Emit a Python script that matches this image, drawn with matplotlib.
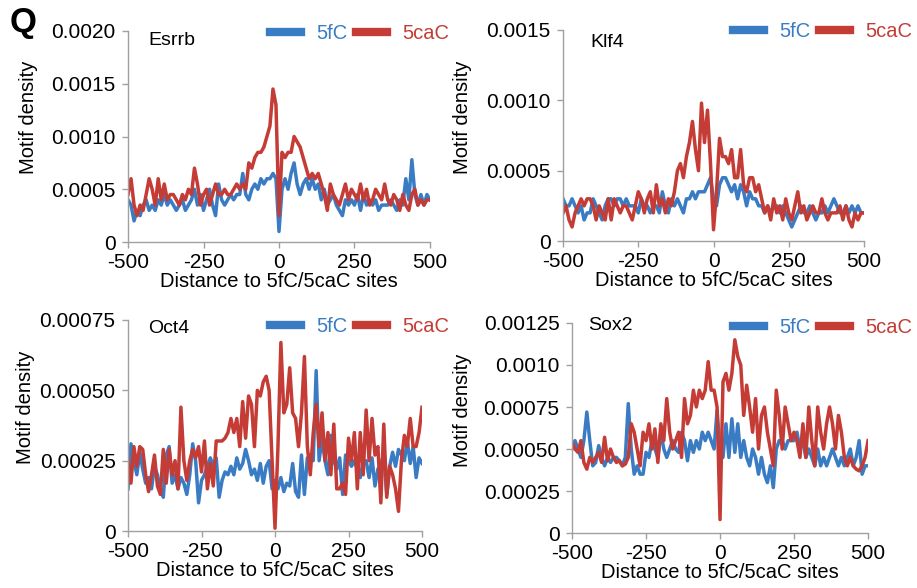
import numpy as np
import matplotlib
matplotlib.use("Agg")
import matplotlib.pyplot as plt

plt.rcParams['font.family'] = ['Liberation Sans', 'DejaVu Sans']

# distance bins (bp)
distance = list(range(-500, 501, 10))
UNIT = 1e-4  # values below are in units of 1e-4 motifs

esrrb_5fC = [4.0, 3.5, 2.0, 3.0, 2.5, 3.5, 4.0, 3.0, 3.5, 3.0, 4.0, 3.5, 4.5, 3.5, 4.0, 3.5, 3.0, 3.5, 4.0, 3.0,
             3.5, 4.0, 5.0, 3.5, 4.5, 3.0, 4.0, 5.0, 3.5, 2.5, 5.5, 4.0, 3.5, 4.0, 4.5, 4.0, 4.5, 4.5, 6.5, 4.5,
             4.0, 5.0, 5.5, 5.0, 6.0, 5.5, 6.0, 6.0, 6.5, 6.0, 1.0, 5.0, 6.0, 5.0, 6.5, 7.5, 5.5, 4.5, 5.5, 6.0,
             5.0, 6.0, 5.0, 5.5, 4.0, 5.0, 3.5, 4.0, 4.5, 3.5, 3.0, 2.5, 4.0, 3.5, 4.0, 3.5, 4.5, 3.0, 4.5, 3.5,
             4.0, 3.5, 4.0, 3.0, 3.5, 3.5, 3.5, 4.0, 3.5, 3.0, 4.0, 3.5, 6.0, 4.0, 7.8, 4.5, 3.5, 4.5, 3.5, 4.5, 4.0]
esrrb_5caC = [4.5, 6.0, 3.5, 2.5, 3.5, 3.0, 4.5, 6.0, 5.0, 3.5, 6.0, 4.0, 5.5, 4.0, 4.5, 4.5, 4.0, 3.5, 4.5, 4.0,
              5.0, 4.5, 7.0, 5.5, 3.5, 4.5, 5.0, 3.5, 4.5, 5.5, 4.5, 4.5, 5.0, 4.5, 4.5, 5.0, 5.5, 5.0, 5.5, 5.0,
              7.5, 7.0, 8.0, 8.5, 8.5, 9.0, 10.0, 11.0, 14.5, 13.0, 2.5, 8.5, 8.0, 8.5, 8.5, 10.0, 9.5, 9.0, 8.0, 7.0,
              6.0, 6.5, 6.0, 6.5, 5.5, 4.5, 3.0, 5.5, 4.5, 4.0, 3.5, 4.5, 5.5, 4.0, 5.0, 4.5, 4.0, 5.5, 4.0, 5.0,
              3.5, 4.0, 5.0, 4.5, 4.0, 5.5, 4.0, 3.5, 4.5, 4.0, 3.0, 4.5, 3.5, 3.0, 4.5, 5.0, 3.5, 4.0, 3.5, 4.0, 4.0]

klf4_5fC = [3.0, 2.5, 2.5, 3.0, 2.5, 2.0, 2.5, 1.5, 2.0, 2.0, 3.0, 2.5, 2.0, 1.5, 2.5, 3.0, 3.0, 2.5, 3.0, 3.0,
            2.5, 3.0, 2.5, 2.5, 2.5, 2.0, 3.0, 2.5, 2.5, 2.0, 2.5, 2.5, 2.0, 3.5, 2.5, 2.0, 3.0, 2.5, 3.0, 2.5,
            2.0, 3.0, 3.0, 3.5, 3.0, 3.5, 3.5, 3.5, 4.0, 4.5, 3.0, 2.5, 4.0, 4.5, 4.5, 4.0, 3.5, 4.0, 3.0, 4.0,
            3.5, 2.5, 3.5, 3.0, 3.0, 2.5, 2.5, 2.0, 2.5, 2.0, 2.5, 2.5, 2.0, 2.5, 2.0, 1.5, 1.0, 1.5, 2.0, 2.5,
            2.0, 2.0, 2.5, 2.0, 1.5, 2.0, 2.0, 2.5, 2.0, 2.5, 3.0, 2.5, 2.0, 2.0, 2.5, 2.0, 2.5, 2.0, 2.5, 2.0, 2.0]
klf4_5caC = [2.0, 2.5, 1.5, 1.0, 2.0, 2.5, 3.0, 2.5, 3.0, 3.0, 2.5, 1.5, 2.5, 2.0, 1.5, 3.0, 1.5, 3.0, 2.5, 2.0,
             2.5, 2.5, 2.0, 1.5, 2.5, 3.5, 3.0, 2.0, 3.0, 3.5, 2.0, 4.0, 2.5, 3.0, 2.0, 3.0, 2.5, 3.5, 5.0, 5.5,
             4.5, 6.0, 7.0, 8.5, 6.5, 5.0, 9.8, 7.0, 9.3, 5.5, 0.8, 3.5, 7.3, 6.0, 6.0, 5.5, 6.5, 4.5, 4.5, 6.5,
             4.0, 3.5, 4.5, 4.5, 3.5, 4.0, 3.0, 2.0, 2.5, 1.5, 3.0, 2.0, 2.5, 1.5, 3.0, 2.0, 1.5, 2.5, 3.5, 2.0,
             2.5, 1.5, 2.0, 2.5, 2.0, 2.0, 3.0, 2.0, 1.5, 2.0, 2.0, 2.0, 2.5, 1.5, 2.5, 1.5, 1.0, 2.0, 1.5, 2.0, 2.0]

oct4_5fC = [1.5, 3.1, 2.5, 2.0, 2.8, 2.2, 1.7, 1.9, 1.5, 2.3, 2.0, 1.5, 1.2, 2.7, 3.0, 1.7, 2.0, 1.5, 1.9, 1.7,
            1.3, 2.0, 3.1, 2.5, 1.0, 1.8, 2.0, 2.3, 2.6, 2.3, 2.6, 1.2, 1.8, 2.1, 2.0, 2.3, 2.0, 2.6, 2.2, 2.4,
            2.9, 2.5, 2.0, 2.2, 1.8, 2.4, 1.7, 2.3, 2.5, 1.5, 1.8, 1.5, 1.9, 1.4, 1.7, 1.6, 2.4, 1.4, 1.2, 2.7,
            1.3, 2.6, 2.7, 2.5, 5.7, 2.5, 3.3, 2.5, 2.0, 3.4, 2.5, 2.2, 2.6, 1.3, 2.7, 2.5, 2.3, 2.5, 2.2, 1.9,
            2.5, 2.5, 1.9, 2.6, 1.6, 2.2, 2.4, 2.7, 1.3, 2.3, 2.8, 2.3, 2.9, 2.7, 2.5, 3.2, 2.4, 3.0, 1.9, 2.6, 2.4]
oct4_5caC = [2.5, 1.7, 3.0, 2.3, 3.0, 2.9, 2.0, 1.4, 2.0, 2.7, 1.6, 1.3, 2.9, 1.7, 2.9, 2.0, 2.5, 1.5, 4.4, 2.5,
             1.8, 2.5, 2.9, 2.6, 3.0, 2.1, 3.2, 1.5, 2.4, 1.6, 3.2, 3.2, 3.2, 3.3, 3.5, 4.0, 3.5, 4.0, 3.0, 4.6,
             3.3, 4.8, 4.5, 3.0, 5.0, 4.8, 5.3, 5.5, 5.0, 2.5, 0.1, 3.0, 6.7, 4.2, 4.5, 5.8, 4.2, 4.0, 3.0, 4.2,
             6.2, 3.0, 2.0, 3.5, 4.5, 3.0, 4.2, 2.5, 3.5, 2.0, 3.8, 1.5, 1.5, 1.7, 1.3, 3.3, 2.5, 3.5, 1.5, 3.5,
             2.0, 4.3, 2.5, 4.0, 2.7, 3.0, 1.0, 3.8, 1.2, 2.3, 2.0, 1.5, 0.7, 2.5, 3.4, 3.0, 4.0, 3.0, 3.0, 3.5, 4.4]

sox2_5fC = [5.0, 5.5, 5.0, 4.5, 5.5, 7.2, 5.5, 4.0, 4.2, 5.2, 4.5, 4.0, 4.5, 4.2, 4.5, 4.5, 4.3, 4.0, 4.5, 7.7,
            5.0, 3.5, 4.0, 3.5, 3.5, 4.8, 4.5, 5.5, 5.0, 4.5, 6.0, 5.0, 4.5, 5.0, 5.5, 5.0, 4.8, 6.0, 5.5, 4.3,
            5.5, 4.8, 5.5, 5.0, 6.0, 5.5, 6.0, 5.5, 5.0, 7.3, 5.0, 4.5, 6.5, 4.5, 6.8, 4.8, 6.5, 4.5, 5.5, 4.5,
            4.0, 5.0, 4.5, 3.5, 4.5, 3.5, 3.0, 4.0, 2.7, 5.0, 5.5, 5.5, 5.0, 5.5, 5.5, 5.5, 6.0, 5.0, 5.5, 4.5,
            5.0, 4.5, 4.0, 5.0, 4.0, 4.5, 4.0, 4.5, 5.0, 4.5, 4.0, 4.5, 4.0, 4.5, 5.0, 4.0, 4.5, 5.5, 3.5, 4.0, 4.0]
sox2_5caC = [5.4, 5.0, 4.8, 5.5, 4.2, 3.8, 4.5, 4.2, 4.5, 4.8, 4.2, 5.7, 4.3, 5.0, 4.5, 4.2, 4.3, 4.0, 4.1, 4.5,
             6.5, 6.0, 5.0, 4.0, 6.0, 5.5, 6.5, 5.0, 6.2, 4.2, 6.5, 5.5, 8.0, 6.0, 5.0, 5.5, 6.0, 4.5, 8.0, 6.5,
             7.0, 8.5, 7.5, 8.5, 8.0, 8.5, 10.2, 8.5, 8.5, 7.5, 0.8, 9.0, 9.5, 8.5, 9.5, 11.5, 10.5, 10.0, 7.0, 8.8,
             7.5, 6.0, 8.0, 5.0, 7.0, 7.5, 6.0, 5.0, 4.0, 8.5, 7.0, 5.0, 7.5, 6.5, 5.5, 6.0, 5.5, 4.5, 6.5, 4.5,
             7.5, 5.5, 4.0, 7.5, 6.0, 5.0, 6.5, 7.5, 6.5, 5.0, 7.0, 6.0, 4.5, 4.0, 4.5, 4.0, 3.8, 3.7, 4.0, 4.5, 5.5]

panels = [
    dict(name="Esrrb", fc=esrrb_5fC, cac=esrrb_5caC, ymax=0.0020,
         yticks=[0, 0.0005, 0.0010, 0.0015, 0.0020],
         ylabels=["0", "0.0005", "0.0010", "0.0015", "0.0020"],
         pos=[0.1396, 0.5884, 0.3293, 0.3589],
         ylab=(-0.298, 0.59), title=(0.066, 0.957), leg=(0.4896, 0.9422)),
    dict(name="Klf4", fc=klf4_5fC, cac=klf4_5caC, ymax=0.0015,
         yticks=[0, 0.0005, 0.0010, 0.0015],
         ylabels=["0", "0.0005", "0.0010", "0.0015"],
         pos=[0.6140, 0.5901, 0.3282, 0.3589],
         ylab=(-0.302, 0.588), title=(0.09, 0.943), leg=(0.9945, 0.9456)),
    dict(name="Oct4", fc=oct4_5fC, cac=oct4_5caC, ymax=0.00075,
         yticks=[0, 0.00025, 0.00050, 0.00075],
         ylabels=["0", "0.00025", "0.00050", "0.00075"],
         pos=[0.1396, 0.0969, 0.3206, 0.3589],
         ylab=(-0.316, 0.588), title=(0.068, 0.962), leg=(0.4896, 0.4439)),
    dict(name="Sox2", fc=sox2_5fC, cac=sox2_5caC, ymax=0.00125,
         yticks=[0, 0.00025, 0.00050, 0.00075, 0.0010, 0.00125],
         ylabels=["0", "0.00025", "0.00050", "0.00075", "0.0010", "0.00125"],
         pos=[0.6238, 0.0935, 0.3228, 0.3572],
         ylab=(-0.338, 0.586), title=(0.054, 0.99), leg=(0.9945, 0.4422)),
]

xticks = [-500, -250, 0, 250, 500]
xticklabels = ["-500", "-250", "0", "250", "500"]
BLUE = "#3a7cc4"
RED = "#c43c35"
AXC = "#a0a0a0"
FS = 15

fig = plt.figure(figsize=(9.17, 5.88), dpi=100)
for p in panels:
    ax = fig.add_axes(p["pos"])
    x = np.array(distance)
    l1, = ax.plot(x, np.array(p["fc"]) * UNIT, color=BLUE, lw=2.5, solid_joinstyle="round")
    l2, = ax.plot(x, np.array(p["cac"]) * UNIT, color=RED, lw=2.5, solid_joinstyle="round")
    ax.set_xlim(-500, 500)
    ax.set_ylim(0, p["ymax"])
    ax.set_xticks(xticks)
    ax.set_xticklabels(xticklabels, fontsize=FS)
    ax.set_yticks(p["yticks"])
    ax.set_yticklabels(p["ylabels"], fontsize=FS)
    for s in ["top", "right"]:
        ax.spines[s].set_visible(False)
    for s in ["left", "bottom"]:
        ax.spines[s].set_color(AXC)
        ax.spines[s].set_linewidth(1.0)
    ax.tick_params(axis="both", colors=AXC, labelcolor="black", length=4, width=1.0)
    ax.tick_params(axis="x", pad=4)
    ax.tick_params(axis="y", pad=5)
    ax.set_xlabel("Distance to 5fC/5caC sites", fontsize=14.5, labelpad=0)
    ax.set_ylabel("Motif density", fontsize=14.5)
    ax.yaxis.set_label_coords(*p["ylab"])
    ax.text(p["title"][0], p["title"][1], p["name"], transform=ax.transAxes,
            fontsize=14, va="center", ha="left")
    leg = ax.legend([l1, l2], ["5fC", "5caC"], ncol=2, loc="center right",
                    bbox_to_anchor=p["leg"], bbox_transform=fig.transFigure,
                    frameon=False, fontsize=14.5, borderpad=0, borderaxespad=0,
                    handlelength=1.55, handletextpad=0.75, columnspacing=0.4)
    for line in leg.get_lines():
        line.set_linewidth(6)
    leg.get_texts()[0].set_color(BLUE)
    leg.get_texts()[1].set_color(RED)

fig.text(0.011, 0.962, "Q", fontsize=25, fontweight="bold", va="center", ha="left")

fig.savefig("out.png", dpi=100)
